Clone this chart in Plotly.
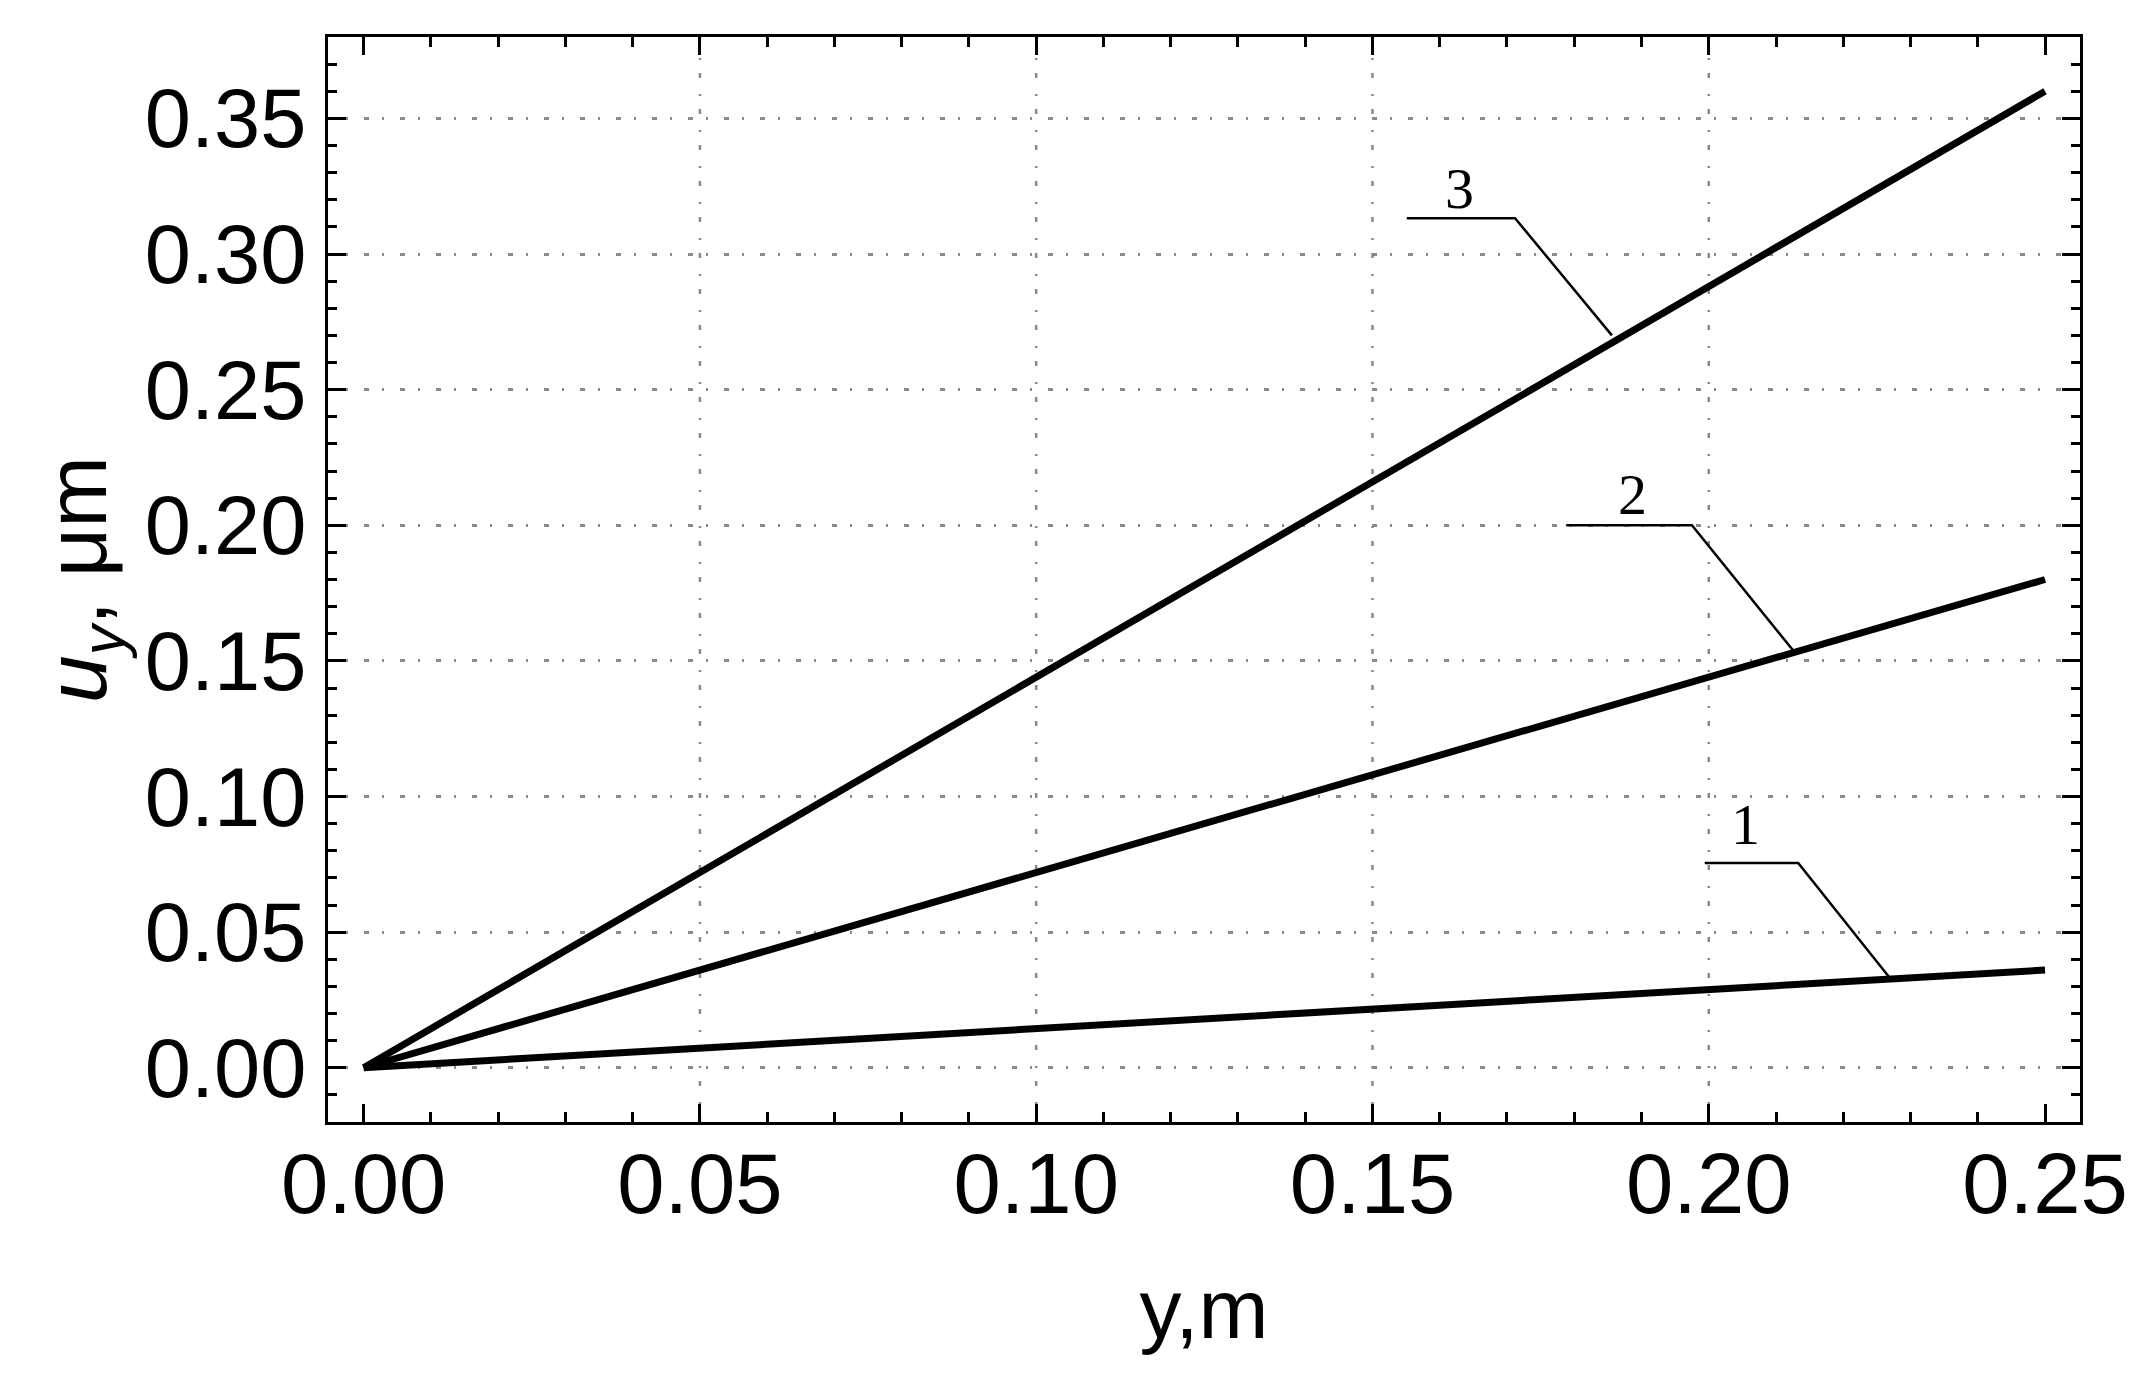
import plotly.graph_objects as go

# ---- data ----
y_pos = [0.0, 0.25]                 # coordinate y, m
curve_names = ["1", "2", "3"]
u_curve1 = [0.0, 0.036]             # u_y, um
u_curve2 = [0.0, 0.180]
u_curve3 = [0.0, 0.360]

x_ticks = [0.00, 0.05, 0.10, 0.15, 0.20, 0.25]
y_ticks = [0.00, 0.05, 0.10, 0.15, 0.20, 0.25, 0.30, 0.35]
x_grid = [0.05, 0.10, 0.15, 0.20]

# curve labels: text position and leader line (start of shelf, knee, point on curve)
label_text = ["1", "2", "3"]
label_xy = [(0.2055, 0.0895), (0.1886, 0.2115), (0.1630, 0.3240)]
leader_x = [[0.1994, 0.2133, 0.2269], [0.1788, 0.1975, 0.2125], [0.1551, 0.1712, 0.1856]]
leader_y = [[0.0755, 0.0755, 0.0332], [0.2000, 0.2000, 0.1540], [0.3132, 0.3132, 0.2700]]

FONT = "Liberation Sans, Arial, sans-serif"
SERIF = "Liberation Serif, Times New Roman, serif"
GRID_DASH = "5px,13px,2px,16px"
GRID_COLOR = "#8a8a8a"

fig = go.Figure()

for name, vals in zip(curve_names, [u_curve1, u_curve2, u_curve3]):
    fig.add_trace(go.Scatter(x=y_pos, y=vals, mode="lines", name=name,
                             line=dict(color="black", width=7), showlegend=False))

for lx, ly in zip(leader_x, leader_y):
    fig.add_trace(go.Scatter(x=lx, y=ly, mode="lines", showlegend=False,
                             line=dict(color="black", width=2.5)))

for t, (tx, ty) in zip(label_text, label_xy):
    fig.add_annotation(x=tx, y=ty, text=t, showarrow=False,
                       font=dict(family=SERIF, size=58, color="black"))

for gx in x_grid:
    fig.add_shape(type="line", xref="x", yref="paper", x0=gx, x1=gx, y0=0, y1=1,
                  layer="below", line=dict(color=GRID_COLOR, width=2.5, dash=GRID_DASH))

fig.update_xaxes(
    range=[-0.0053, 0.2552], tickvals=x_ticks, tickformat=".2f",
    ticks="inside", ticklen=18, tickwidth=3, tickcolor="black",
    minor=dict(dtick=0.01, tick0=0, ticks="inside", ticklen=10, tickwidth=2.5, tickcolor="black", showgrid=False),
    showline=True, linewidth=3, linecolor="black", mirror="ticks",
    showgrid=False, zeroline=False, ticklabelstandoff=-14,
    tickfont=dict(family=FONT, size=85, color="black"),
    title=dict(text="y,m", font=dict(family=FONT, size=84, color="black"), standoff=50),
)
fig.update_yaxes(
    range=[-0.02, 0.38], tickvals=y_ticks, tickformat=".2f",
    ticks="inside", ticklen=18, tickwidth=3, tickcolor="black",
    minor=dict(dtick=0.01, tick0=0, ticks="inside", ticklen=9, tickwidth=2.5, tickcolor="black", showgrid=False),
    showline=True, linewidth=3, linecolor="black", mirror="ticks",
    showgrid=True, gridcolor=GRID_COLOR, gridwidth=2.5, griddash=GRID_DASH, zeroline=False,
    ticklabelstandoff=2,
    tickfont=dict(family=FONT, size=83, color="black"),
    title=dict(text="<i>u</i><sub><i>y</i></sub>, μm", font=dict(family=FONT, size=86, color="black"), standoff=10),
)

# page body has an 8px default margin; compensate so the plot area matches the reference
fig.update_layout(
    width=2131, height=1365,
    margin=dict(l=320, r=59, t=29, b=251),
    plot_bgcolor="white", paper_bgcolor="white",
)

fig.write_html("out.html")
